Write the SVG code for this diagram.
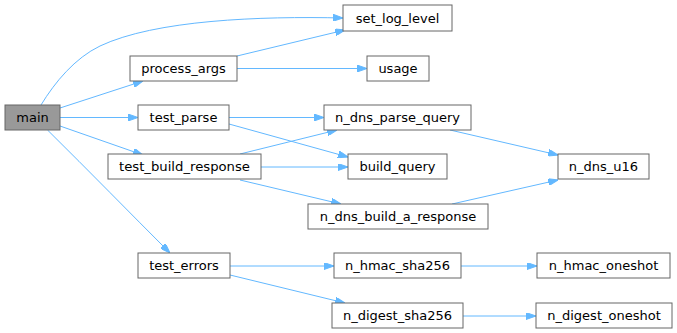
<svg xmlns="http://www.w3.org/2000/svg" width="677" height="333" viewBox="0 0 677 333">
<style>
.n rect{fill:#fff;stroke:#666;stroke-width:1}
#main rect{fill:#999}
text{font-family:"DejaVu Sans",sans-serif;font-size:13px;text-anchor:middle;fill:#000}
.e path{fill:none;stroke:#63b8ff;stroke-width:1;marker-end:url(#ah)}
</style>
<defs>
<marker id="ah" viewBox="0 0 10 7" markerWidth="10" markerHeight="7" refX="10" refY="3.5" orient="auto" markerUnits="userSpaceOnUse">
<path d="M0,0 L10,3.5 L0,7 z" fill="#63b8ff" stroke="#63b8ff"/>
</marker>
</defs>
<rect width="677" height="333" fill="#fff"/>
<g class="e">
<path d="M41,105 C55,82 75,58 100,46 C155,20 260,16 343,18"/>
<path d="M60,108 L143,81"/>
<path d="M60,117.5 L138,117.5"/>
<path d="M60,126 L143,155"/>
<path d="M47.5,130 C90,172 130,213 170,253"/>
<path d="M237,56 L345,30"/>
<path d="M237,68.5 L367,68.5"/>
<path d="M229,117.5 L324,117.5"/>
<path d="M229,124 L348,157"/>
<path d="M240,154 L337,130"/>
<path d="M261,167 L348,167"/>
<path d="M240,180 L341,204"/>
<path d="M450,130 L558,155"/>
<path d="M452,204 L558,180"/>
<path d="M230,266 L334,266"/>
<path d="M230,275 L345,303"/>
<path d="M461,266 L537,266"/>
<path d="M463,316 L536,316"/>
</g>
<g id="main" class="n"><rect x="5" y="105" width="55" height="25"/><text x="32.5" y="122">main</text></g>
<g id="process_args" class="n"><rect x="130" y="56" width="107" height="25"/><text x="183.5" y="73">process_args</text></g>
<g id="test_parse" class="n"><rect x="138" y="105" width="91" height="25"/><text x="183.5" y="122">test_parse</text></g>
<g id="test_build_response" class="n"><rect x="108" y="154" width="153" height="25"/><text x="184.5" y="171" textLength="131" lengthAdjust="spacingAndGlyphs">test_build_response</text></g>
<g id="test_errors" class="n"><rect x="138" y="253" width="92" height="25"/><text x="184" y="270">test_errors</text></g>
<g id="set_log_level" class="n"><rect x="343" y="5" width="109" height="26"/><text x="397.5" y="22.5">set_log_level</text></g>
<g id="usage" class="n"><rect x="367" y="56" width="62" height="25"/><text x="398" y="73">usage</text></g>
<g id="n_dns_parse_query" class="n"><rect x="324" y="105" width="147" height="25"/><text x="397.5" y="122">n_dns_parse_query</text></g>
<g id="build_query" class="n"><rect x="348" y="154" width="99" height="25"/><text x="397.5" y="171">build_query</text></g>
<g id="n_dns_build_a_response" class="n"><rect x="308" y="204" width="180" height="25"/><text x="398" y="221">n_dns_build_a_response</text></g>
<g id="n_hmac_sha256" class="n"><rect x="334" y="253" width="127" height="25"/><text x="397.5" y="270">n_hmac_sha256</text></g>
<g id="n_digest_sha256" class="n"><rect x="332" y="303" width="131" height="25"/><text x="397.5" y="320">n_digest_sha256</text></g>
<g id="n_dns_u16" class="n"><rect x="558" y="154" width="91" height="25"/><text x="603.5" y="171">n_dns_u16</text></g>
<g id="n_hmac_oneshot" class="n"><rect x="537" y="253" width="133" height="25"/><text x="603.5" y="270">n_hmac_oneshot</text></g>
<g id="n_digest_oneshot" class="n"><rect x="536" y="303" width="136" height="25"/><text x="604" y="320">n_digest_oneshot</text></g>
</svg>
